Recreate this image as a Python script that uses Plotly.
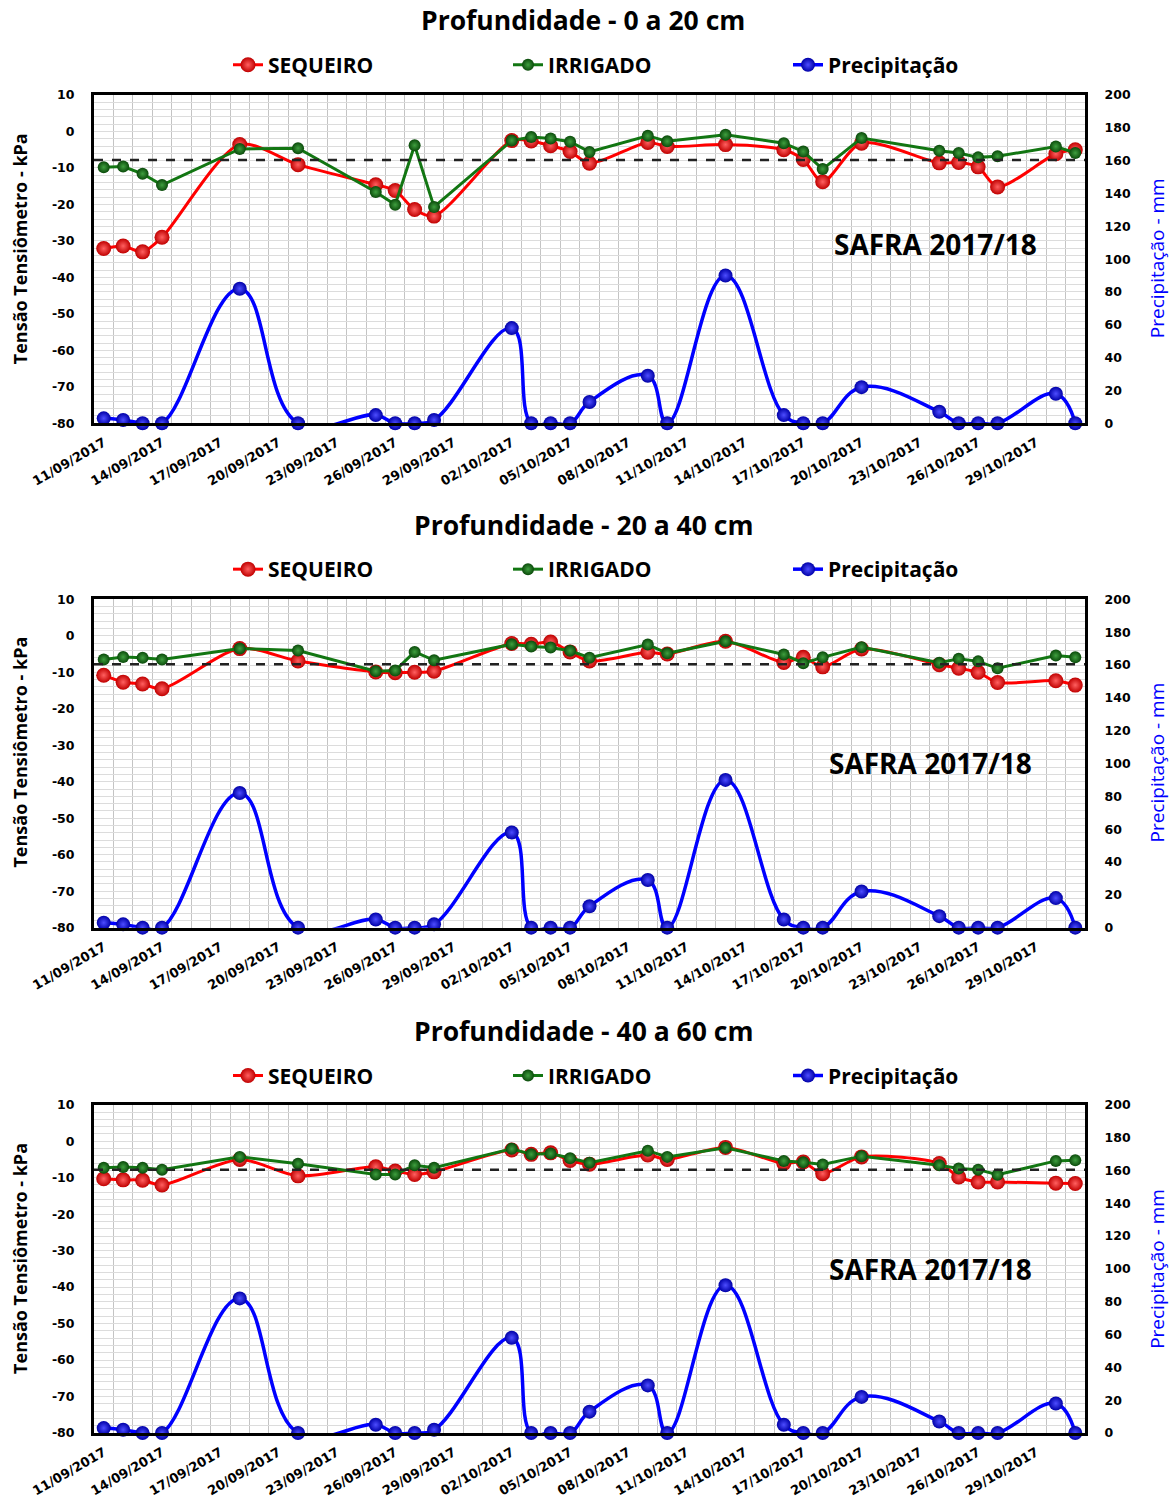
import plotly.graph_objects as go

# ---------------- data ----------------
dates = ["2017-09-11", "2017-09-12", "2017-09-13", "2017-09-14", "2017-09-18", "2017-09-21",
         "2017-09-25", "2017-09-26", "2017-09-27", "2017-09-28", "2017-10-02", "2017-10-03",
         "2017-10-04", "2017-10-05", "2017-10-06", "2017-10-09", "2017-10-10", "2017-10-13",
         "2017-10-16", "2017-10-17", "2017-10-18", "2017-10-20", "2017-10-24", "2017-10-25",
         "2017-10-26", "2017-10-27", "2017-10-30", "2017-10-31"]

precipitacao = [3, 2, 0, 0, 82, 0, 5, 0, 0, 2, 58, 0, 0, 0, 13, 29, 0, 90, 5, 0, 0, 22, 7, 0, 0, 0, 18, 0]

sequeiro_0_20 = [-32.1, -31.4, -33.0, -29.0, -3.6, -9.1, -14.6, -16.2, -21.4, -23.2, -2.5, -2.6, -3.9, -5.5,
                 -8.7, -3.0, -4.1, -3.6, -5.0, -7.7, -13.8, -3.2, -8.6, -8.5, -9.7, -15.2, -6.1, -5.0]
irrigado_0_20 = [-9.8, -9.6, -11.6, -14.7, -4.8, -4.6, -16.6, -20.1, -3.8, -20.7, -2.5, -1.5, -1.9, -2.8,
                 -5.6, -1.2, -2.7, -0.9, -3.2, -5.5, -10.3, -1.8, -5.3, -5.9, -7.1, -6.8, -4.1, -5.9]

sequeiro_20_40 = [-10.8, -12.7, -13.2, -14.5, -3.5, -6.9, -9.9, -10.1, -10.0, -9.7, -2.1, -2.3, -1.7, -4.4,
                  -6.9, -4.5, -5.0, -1.5, -7.3, -5.9, -8.5, -3.6, -7.9, -8.9, -10.0, -12.8, -12.3, -13.5]
irrigado_20_40 = [-6.5, -5.8, -6.0, -6.5, -3.5, -4.0, -9.7, -9.5, -4.4, -6.7, -2.3, -2.9, -3.2, -4.1,
                  -6.0, -2.4, -4.8, -1.5, -5.1, -7.5, -5.9, -3.1, -7.4, -6.3, -7.0, -8.9, -5.4, -5.9]

sequeiro_40_60 = [-10.3, -10.6, -10.7, -12.0, -5.0, -9.5, -7.0, -8.2, -9.1, -8.4, -2.4, -3.6, -3.2, -5.3,
                  -6.3, -3.8, -5.0, -1.7, -6.1, -5.7, -8.9, -4.3, -6.1, -9.8, -11.2, -11.2, -11.5, -11.6]
irrigado_40_60 = [-7.3, -7.1, -7.3, -7.8, -4.3, -6.2, -9.1, -9.1, -6.6, -7.3, -2.1, -3.6, -3.4, -4.7,
                  -5.9, -2.6, -4.3, -1.8, -5.4, -5.8, -6.4, -4.1, -6.6, -7.5, -7.8, -9.2, -5.4, -5.2]

limite_kpa = -7.8

kpa_ticks = [10, 0, -10, -20, -30, -40, -50, -60, -70, -80]
kpa_ticklabels = ["10", "0", "-10", "-20", "-30", "-40", "-50", "-60", "-70", "-80"]

titulos = ["Profundidade - 0 a 20 cm", "Profundidade - 20 a 40 cm", "Profundidade - 40 a 60 cm"]
nomes = ["SEQUEIRO", "IRRIGADO", "Precipitação"]
safra = "SAFRA 2017/18"
y_titulo_esq = "Tensão Tensiômetro - kPa"
y_titulo_dir = "Precipitação - mm"

sequeiros = [sequeiro_0_20, sequeiro_20_40, sequeiro_40_60]
irrigados = [irrigado_0_20, irrigado_20_40, irrigado_40_60]

# ---------------- layout helpers ----------------
W, H = 1173, 1510
L, R, T, B = 94, 1085, 95, 1440


def px_x(p):
    return (p - L) / (R - L)


def px_y(p):
    return (B - p) / (B - T)


panels = [(95, 425), (602, 932), (1110, 1440)]
title_y = [20, 527, 1036]
legend_y = [65, 572, 1081]
safra_pos = [(935, 245), (930, 766), (930, 1275)]
ytit_l = [250, 756, 1265]
ytit_r = [259, 766, 1275]

TICKFONT = dict(family="DejaVu Sans", size=12.5, color="black", weight=700)
BOLD = dict(family="Open Sans", color="black", weight=700)

fig = go.Figure()

layout = dict(
    width=W, height=H,
    margin=dict(l=L, r=W - R, t=T, b=H - B, pad=0),
    paper_bgcolor="white", plot_bgcolor="white",
    showlegend=True,
    annotations=[], shapes=[],
)

for i in range(3):
    n = i + 1
    xa = "x" if n == 1 else f"x{n}"
    ya = "y" if n == 1 else f"y{n}"
    ya2 = f"y{n + 3}"
    leg = "legend" if n == 1 else f"legend{n}"
    top, bot = panels[i]
    dom = [px_y(bot), px_y(top)]

    layout[f"xaxis{'' if n == 1 else n}"] = dict(
        type="date", domain=[0, 1], anchor=ya,
        range=["2017-09-10 12:00", "2017-10-31 12:00"],
        tick0="2017-09-11", dtick=3 * 86400000, tickformat="%d/%m/%Y",
        tickangle=-30, tickfont=dict(family="DejaVu Sans", size=13, color="black", weight=700),
        ticks="", showgrid=False, zeroline=False,
        minor=dict(tick0="2017-09-10 12:00", dtick=86400000, showgrid=True,
                   gridcolor="#c4c4c4", gridwidth=1.3, ticks=""),
        showline=True, linecolor="black", linewidth=3, mirror=True,
        ticklabelstandoff=4,
    )
    layout[f"yaxis{'' if n == 1 else n}"] = dict(
        domain=dom, anchor=xa, range=[-80, 10],
        tickmode="array", tickvals=kpa_ticks, ticktext=kpa_ticklabels,
        showgrid=True, gridcolor="#dcdcdc", gridwidth=1,
        minor=dict(tickmode="linear", tick0=0, dtick=2, showgrid=True, gridcolor="#dcdcdc", gridwidth=1, ticks=""),
        zeroline=False, ticks="", tickfont=TICKFONT,
        showline=True, linecolor="black", linewidth=3, mirror=True,
        ticklabelstandoff=14,
    )
    layout[f"yaxis{n + 3}"] = dict(
        overlaying=ya, side="right", anchor=xa, range=[0, 200], dtick=20,
        showgrid=False, zeroline=False, ticks="", tickfont=TICKFONT,
        showline=True, linecolor="black", linewidth=3,
        ticklabelstandoff=14,
    )
    layout[leg] = dict(
        orientation="h", x=px_x(228), xanchor="left", y=px_y(legend_y[i]), yanchor="middle",
        entrywidth=235, entrywidthmode="pixels", itemwidth=30,
        font=dict(BOLD, size=21), bgcolor="rgba(0,0,0,0)", borderwidth=0,
    )

    fig.add_trace(go.Scatter(
        x=dates, y=sequeiros[i], name=nomes[0], xaxis=xa, yaxis=ya, legend=leg,
        mode="lines+markers", line=dict(color="#ff0000", width=3, shape="spline", smoothing=0.8),
        marker=dict(size=15, color="#c00000", gradient=dict(type="radial", color="#ff6060")),
        cliponaxis=False,
    ))
    fig.add_trace(go.Scatter(
        x=dates, y=irrigados[i], name=nomes[1], xaxis=xa, yaxis=ya, legend=leg,
        mode="lines+markers", line=dict(color="#127612", width=3),
        marker=dict(size=12, color="#0a4a0a", gradient=dict(type="radial", color="#3f9f3f")),
        cliponaxis=False,
    ))
    fig.add_trace(go.Scatter(
        x=dates, y=precipitacao, name=nomes[2], xaxis=xa, yaxis=ya2, legend=leg,
        mode="lines+markers", line=dict(color="#0000ff", width=3.5, shape="spline", smoothing=1.2),
        marker=dict(size=14, color="#0000a8", gradient=dict(type="radial", color="#4d4dff")),
        cliponaxis=False,
    ))

    layout["shapes"].append(dict(
        type="line", xref=f"{xa} domain", yref=ya, x0=0, x1=1, y0=limite_kpa, y1=limite_kpa,
        line=dict(color="#222222", width=2.5, dash="dash"), layer="above",
    ))

    layout["annotations"] += [
        dict(text=titulos[i], xref="paper", yref="paper", x=px_x(583), y=px_y(title_y[i]),
             xanchor="center", yanchor="middle", showarrow=False, font=dict(BOLD, size=26.5)),
        dict(text=safra, xref="paper", yref="paper", x=px_x(safra_pos[i][0]), y=px_y(safra_pos[i][1]),
             xanchor="center", yanchor="middle", showarrow=False, font=dict(BOLD, size=28)),
        dict(text=y_titulo_esq, xref="paper", yref="paper", x=px_x(20), y=px_y(ytit_l[i]),
             xanchor="center", yanchor="middle", textangle=-90, showarrow=False,
             font=dict(BOLD, size=18)),
        dict(text=y_titulo_dir, xref="paper", yref="paper", x=px_x(1157), y=px_y(ytit_r[i]),
             xanchor="center", yanchor="middle", textangle=-90, showarrow=False,
             font=dict(family="Open Sans", color="#0000ff", size=19, weight=500)),
    ]

fig.update_layout(**layout)
fig.write_html("out.html", config={"displayModeBar": False},
               post_script="document.body.style.margin='0';")
